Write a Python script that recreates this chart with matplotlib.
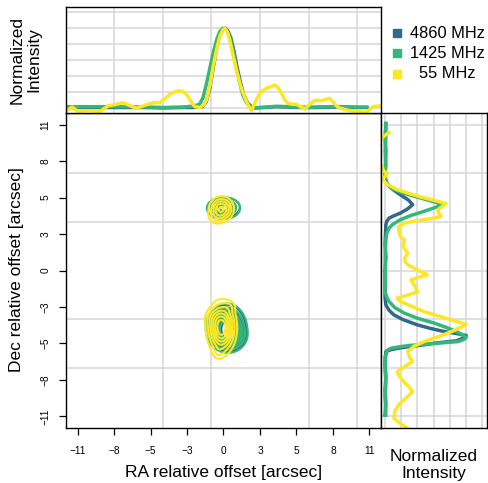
import numpy as np
import matplotlib
matplotlib.use("Agg")
import matplotlib.pyplot as plt
from matplotlib.lines import Line2D

plt.rcParams['font.family'] = ['Liberation Sans', 'DejaVu Sans']

# ---- data ----
freq_labels = ["4860 MHz", "1425 MHz", "  55 MHz"]
freq_colors = ["#31688E", "#35B779", "#FDE725"]

# RA profiles (top panel): offset [arcsec], normalized intensity
ra_blue_x = [-11.7, -10.5, -9, -7.5, -6, -4.5, -3, -2.2, -1.6, -1.3, -1.03, -0.78, -0.53,
             -0.28, -0.05, 0.15, 0.35, 0.55, 0.78, 1.0, 1.28, 1.5, 1.8, 2.1, 2.4, 3, 4, 5,
             6, 7, 8, 9, 10, 10.8]
ra_blue_y = [0.01, 0.01, 0.01, 0.01, 0.01, 0.005, 0.01, 0.01, 0.02, 0.08, 0.25, 0.5, 0.74,
             0.92, 0.99, 1.0, 0.96, 0.88, 0.72, 0.53, 0.32, 0.18, 0.07, 0.02, 0.005, 0.01,
             0.02, 0.015, 0.01, 0.01, 0.015, 0.015, 0.01, 0.01]

ra_green_x = [-11.7, -10.5, -9, -7.5, -6, -4.5, -3, -2.2, -1.8, -1.55, -1.28, -1.03, -0.78,
              -0.53, -0.28, -0.05, 0.1, 0.3, 0.5, 0.72, 0.95, 1.23, 1.45, 1.73, 2.0, 2.3, 3,
              4, 5, 6, 7, 8, 9, 10, 10.8]
ra_green_y = [0.02, 0.02, 0.02, 0.02, 0.015, 0.01, 0.015, 0.03, 0.05, 0.13, 0.31, 0.5, 0.69,
              0.85, 0.96, 1.0, 1.0, 0.96, 0.88, 0.73, 0.52, 0.31, 0.17, 0.07, 0.02, 0.005,
              0.01, 0.025, 0.02, 0.01, 0.015, 0.02, 0.02, 0.015, 0.015]

ra_yellow_x = [-11.83, -11.4, -10.96, -10.5, -10.1, -9.3, -8.7, -8.1, -7.57, -7.0, -6.56,
               -5.9, -5.3, -4.8, -4.4, -4.05, -3.6, -3.3, -2.95, -2.67, -2.4, -2.16, -1.79,
               -1.5, -1.28, -1.0, -0.78, -0.5, -0.28, -0.05, 0.1, 0.3, 0.47, 0.7, 0.98, 1.25,
               1.48, 1.8, 2.1, 2.4, 2.73, 3.24, 3.6, 3.87, 4.1, 4.37, 4.6, 4.87, 5.2, 5.5,
               5.8, 6.13, 6.5, 6.88, 7.15, 7.39, 7.7, 8.0, 8.3, 8.64, 9.27, 10.0, 10.8,
               11.05, 11.27, 11.78]
ra_yellow_y = [-0.03, 0.015, -0.04, -0.03, -0.03, -0.04, 0.03, 0.05, 0.07, 0.03, 0.0,
               0.04, 0.07, 0.07, 0.12, 0.175, 0.21, 0.22, 0.2, 0.145, 0.07, 0.02, 0.01,
               0.04, 0.1, 0.3, 0.52, 0.75, 0.9, 0.98, 1.0, 0.95, 0.85, 0.68, 0.48, 0.3,
               0.19, 0.06, -0.03, 0.08, 0.19, 0.25, 0.27, 0.29, 0.26, 0.19, 0.11, 0.06, 0.05,
               0.05, 0.02, -0.01, 0.05, 0.10, 0.10, 0.095, 0.11, 0.125, 0.07, 0.01, -0.02,
               -0.04, -0.05, -0.01, 0.02, 0.03]

# Dec profiles (right panel): offset [arcsec], normalized intensity
dec_blue_y = [11.08, 10, 9, 8, 7, 6.6, 6.35, 6.0, 5.7, 5.3, 4.96, 4.65, 4.33, 4.1, 3.95,
              3.7, 3.45, 2, 1, 0, -1, -2.1, -2.6, -3.0, -3.35, -3.7, -4.1, -4.35, -4.55,
              -4.75, -4.9, -5.05, -5.3, -5.45, -5.6, -5.8, -5.95, -6.12, -7, -8, -9, -10,
              -10.9]
dec_blue_v = [0.01, 0.0, 0.01, 0.005, 0.0, 0.02, 0.05, 0.12, 0.19, 0.29, 0.34, 0.28, 0.19,
              0.1, 0.05, 0.02, 0.01, 0.0, 0.01, 0.0, 0.0, 0.0, 0.01, 0.05, 0.11, 0.22, 0.4,
              0.55, 0.69, 0.88, 1.0, 0.98, 0.88, 0.65, 0.48, 0.22, 0.08, 0.01, 0.0, 0.01,
              0.0, 0.01, 0.0]

dec_green_y = [11.08, 10, 9, 8, 7.2, 6.8, 6.47, 6.2, 5.9, 5.65, 5.39, 5.15, 4.96, 4.75,
               4.46, 4.15, 3.83, 3.5, 3.2, 2.8, 2.3, 1, 0, -1, -1.6, -2.0, -2.34, -2.8,
               -3.22, -3.6, -3.97, -4.3, -4.6, -4.85, -5.06, -5.2, -5.36, -5.45, -5.56,
               -5.65, -5.74, -5.85, -5.99, -6.5, -7.5, -8.5, -9.5, -10.9]
dec_green_v = [0.01, 0.01, 0.0, 0.01, 0.0, 0.01, 0.03, 0.08, 0.19, 0.33, 0.48, 0.62, 0.71,
               0.62, 0.48, 0.32, 0.19, 0.1, 0.05, 0.02, 0.01, 0.0, 0.005, 0.0, 0.0, 0.02,
               0.05, 0.12, 0.24, 0.4, 0.61, 0.76, 0.88, 0.96, 1.0, 0.97, 0.9, 0.7, 0.48,
               0.3, 0.19, 0.08, 0.03, 0.0, 0.0, 0.01, 0.0, 0.01]

dec_yellow_y = [10.4, 10.1, 9.5, 8.5, 8.0, 7.73, 7.48, 7.35, 7.1, 6.85, 6.65, 6.47, 6.1,
                5.8, 5.54, 5.3, 5.04, 4.8, 4.58, 4.35, 4.08, 3.95, 3.83, 3.7, 3.58, 3.32,
                2.95, 2.57, 2.32, 2.05, 1.81, 1.55, 1.31, 0.94, 0.65, 0.43, 0.1, -0.32,
                -0.55, -0.7, -1.1, -1.59, -1.85, -2.08, -2.3, -2.7, -3.1, -3.6, -4.05, -4.3,
                -4.6, -5.0, -5.36, -5.7, -6.1, -6.5, -6.87, -7.2, -7.63, -8.0, -8.38, -8.8,
                -9.14, -9.6, -10.1, -10.6, -11.15, -11.5, -11.9]
dec_yellow_v = [0.05, -0.02, -0.1, -0.1, -0.06, -0.03, -0.02, 0.03, 0.0, -0.03, 0.0, 0.03,
                0.15, 0.3, 0.44, 0.6, 0.75, 0.7, 0.65, 0.66, 0.69, 0.6, 0.48, 0.35, 0.24,
                0.17, 0.17, 0.19, 0.24, 0.23, 0.22, 0.25, 0.28, 0.24, 0.25, 0.28, 0.38,
                0.52, 0.4, 0.32, 0.36, 0.40, 0.28, 0.15, 0.18, 0.33, 0.48, 0.75, 1.0, 0.93,
                0.82, 0.65, 0.48, 0.36, 0.28, 0.3, 0.34, 0.25, 0.15, 0.18, 0.23, 0.3, 0.34,
                0.26, 0.17, 0.12, 0.11, 0.18, 0.28]

# source components for the contour maps: (ra, dec, sigma_ra, sigma_dec, peak)
src_blue = [(0.15, 4.75, 0.62, 0.42, 0.45), (0.25, -4.3, 0.65, 0.8, 1.0),
            (0.65, -5.0, 0.5, 0.45, 0.45)]
src_green = [(0.0, 4.7, 0.7, 0.46, 0.5), (0.2, -4.3, 0.72, 0.85, 1.0),
             (0.6, -5.0, 0.55, 0.5, 0.45)]
src_yellow = [(-0.15, 4.65, 0.5, 0.5, 0.6), (-0.55, 4.0, 0.4, 0.35, 0.15),
              (-0.15, -4.3, 0.55, 1.0, 1.0), (0.5, -2.7, 0.3, 0.3, 0.1),
              (-0.9, -3.6, 0.35, 0.4, 0.12), (-0.4, -6.2, 0.3, 0.35, 0.1)]
contour_levels = [0.1, 0.2, 0.32, 0.45, 0.58, 0.72, 0.86]

ticks = [-11, -8.25, -5.5, -2.75, 0, 2.75, 5.5, 8.25, 11]
tick_labels = ["\u221211", "\u22128", "\u22125", "\u22123", "0", "3", "5", "8", "11"]
lim = 11.87

# ---- figure ----
W, H = 488, 483
fig = plt.figure(figsize=(W / 100, H / 100), dpi=100)

def frac(x0, y0, x1, y1):
    return [x0 / W, 1 - y1 / H, (x1 - x0) / W, (y1 - y0) / H]

ax = fig.add_axes(frac(66, 113, 381, 428))
ax_top = fig.add_axes(frac(66, 7.3, 381, 113))
ax_r = fig.add_axes(frac(381, 113, 487, 428))

grid_col = "#D6D6D6"
grid_ra = [2.75 + k * 11 / 3 for k in range(-3, 3)]
grid_dec = [k * 11 / 3 for k in range(-3, 4)]
grid_int = [0, 0.2, 0.4, 0.6, 0.8, 1.0, 1.2]

for a in (ax, ax_top, ax_r):
    for s in a.spines.values():
        s.set_linewidth(1.0)
        s.set_color("black")
    a.set_axisbelow(True)

# main contour panel
gx = np.linspace(-lim, lim, 500)
X, Y = np.meshgrid(gx, gx)

def field(comps):
    Z = np.zeros_like(X)
    for x0, y0, sx, sy, amp in comps:
        Z += amp * np.exp(-0.5 * ((X - x0) / sx) ** 2 - 0.5 * ((Y - y0) / sy) ** 2)
    return Z

for comps, col in zip([src_blue, src_green, src_yellow], freq_colors):
    ax.contour(X, Y, field(comps), levels=contour_levels, colors=col, linewidths=1.5)

ax.set_xlim(-lim, lim)
ax.set_ylim(-lim, lim)
ax.set_xticks(ticks)
ax.set_xticklabels(tick_labels, fontsize=7.3)
ax.set_yticks(ticks)
ax.set_yticklabels(tick_labels, fontsize=7.3, rotation=90, va="center")
ax.set_xticks(grid_ra, minor=True)
ax.set_yticks(grid_dec, minor=True)
ax.grid(which="minor", color=grid_col, lw=1.1)
ax.tick_params(which="major", direction="out", length=5, width=0.9, pad=8)
ax.tick_params(axis="y", which="major", pad=6)
ax.tick_params(which="minor", length=0)

# top panel: RA profiles
ax_top.plot(ra_blue_x, ra_blue_y, color=freq_colors[0], lw=2.5)
ax_top.plot(ra_green_x, ra_green_y, color=freq_colors[1], lw=2.5)
ax_top.plot(ra_yellow_x, ra_yellow_y, color=freq_colors[2], lw=2.5)
ax_top.set_xlim(-lim, lim)
ax_top.set_ylim(-0.059, 1.2625)
ax_top.set_xticks(grid_ra)
ax_top.set_yticks(grid_int)
ax_top.grid(color=grid_col, lw=1.1)
ax_top.tick_params(length=0, labelbottom=False, labelleft=False)

# right panel: Dec profiles
ax_r.plot(dec_blue_v, dec_blue_y, color=freq_colors[0], lw=2.5)
ax_r.plot(dec_green_v, dec_green_y, color=freq_colors[1], lw=2.5)
ax_r.plot(dec_yellow_v, dec_yellow_y, color=freq_colors[2], lw=2.5)
ax_r.set_ylim(-lim, lim)
ax_r.set_xlim(-0.05, 1.257)
ax_r.set_yticks(grid_dec)
ax_r.set_xticks(grid_int)
ax_r.grid(color=grid_col, lw=1.1)
ax_r.tick_params(length=0, labelbottom=False, labelleft=False)

# axis titles
fig.text(17 / W, 1 - 270 / H, "Dec relative offset [arcsec]", rotation=90,
         ha="center", va="center", fontsize=12.5)
fig.text(224 / W, 1 - 472 / H, "RA relative offset [arcsec]",
         ha="center", va="center", fontsize=12.5)
fig.text(433.5 / W, 1 - 465 / H, "Normalized\nIntensity",
         ha="center", va="center", fontsize=12.5, linespacing=1.15)
fig.text(25.5 / W, 1 - 60 / H, "Normalized\nIntensity", rotation=90,
         ha="center", va="center", fontsize=12.5, linespacing=1.15)

# legend
legend_rows = [33, 53, 74]
for lab, col, yy in zip(freq_labels, freq_colors, legend_rows):
    fig.add_artist(Line2D([397 / W], [1 - yy / H], marker="s", ms=6, color=col,
                          transform=fig.transFigure))
    fig.text(410 / W, 1 - yy / H, lab, ha="left", va="center", fontsize=11.8)

fig.savefig("out.png", dpi=100)
